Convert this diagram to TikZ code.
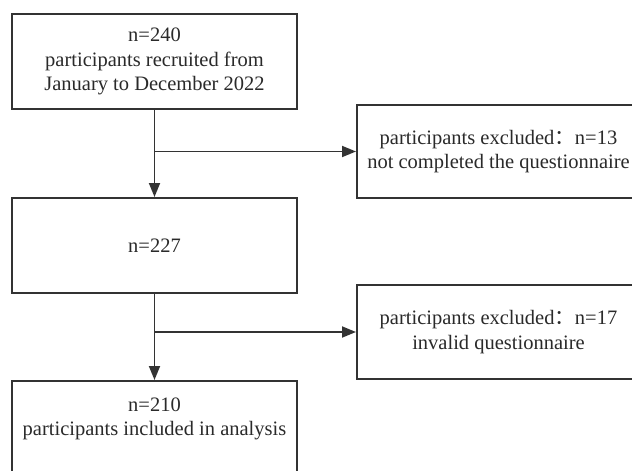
\documentclass[tikz,border=0pt]{standalone}
\usepackage{fontspec}
\setmainfont{Liberation Serif}
\newfontfamily\cjk{Noto Sans CJK SC}
\usetikzlibrary{arrows.meta}
\definecolor{inkgray}{HTML}{333333}
\definecolor{textgray}{HTML}{2A2A2A}
\begin{document}
\begin{tikzpicture}[x=1pt, y=-1pt,
  box/.style={draw=inkgray, line width=2pt, minimum width=285pt, minimum height=95pt, inner sep=0pt},
  txt/.style={align=center, inner sep=0pt, text=textgray, font=\fontsize{20.5}{24.5}\selectfont},
  arr/.style={draw=inkgray, line width=1.8pt, -{Triangle[length=14pt,width=11pt]}}]
  \useasboundingbox (0,0) rectangle (632,471);
  % main column
  \node[box, txt] (recruit) at (154.5,61.5) {n=240\\participants recruited from\\January to December 2022};
  \node[box, txt] (remain) at (154.5,245.5) {n=227};
  \node[box] (final) at (154.5,428.5) {};
  \node[txt] (finaltext) at (154.5,419) {n=210\\participants included in analysis};
  % exclusions
  \node[box, txt, minimum width=283pt, minimum height=93pt] (excl1) at (498.5,151.5) {participants excluded{\cjk ：}n=13\\not completed the questionnaire};
  \node[box, txt, minimum width=283pt, minimum height=94pt] (excl2) at (498.5,332) {participants excluded{\cjk ：}n=17\\invalid questionnaire};
  \coordinate (split1) at (recruit.south |- excl1.west);
  \coordinate (split2) at (remain.south |- excl2.west);
  \draw[arr] (recruit) -- (remain);
  \draw[arr] (split1) -- (excl1);
  \draw[arr] (remain) -- (final);
  \draw[arr] (split2) -- (excl2);
\end{tikzpicture}
\end{document}
